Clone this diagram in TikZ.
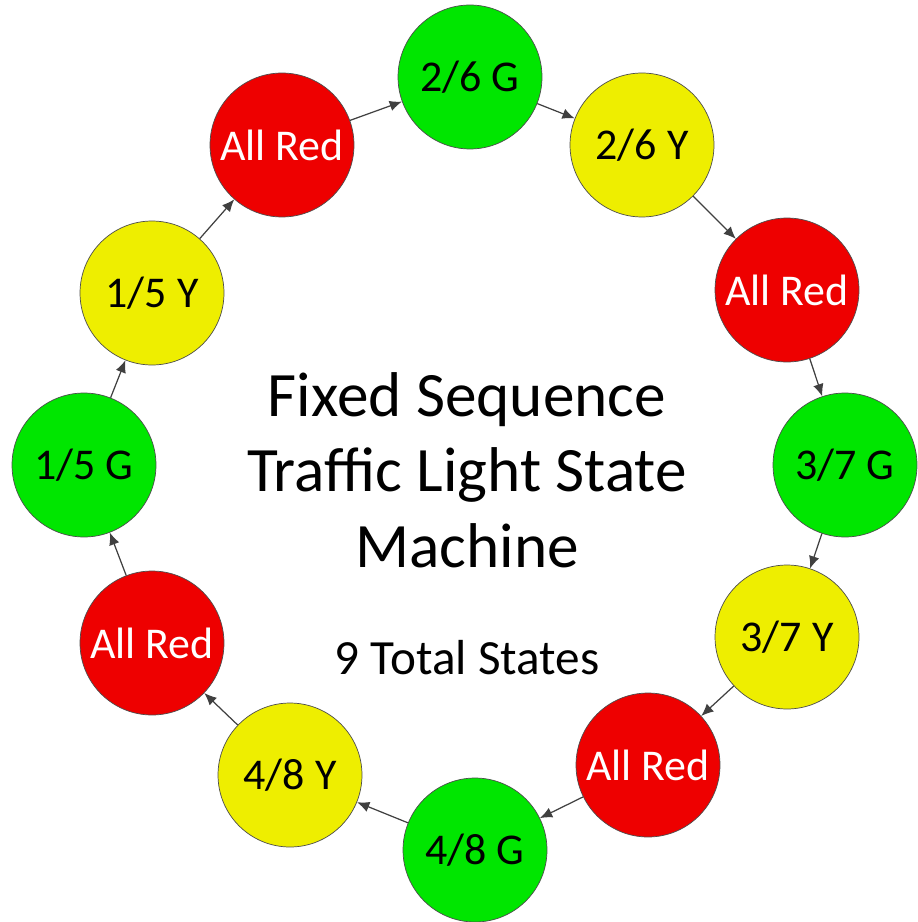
\documentclass[tikz,border=0pt]{standalone}
\usepackage{fontspec}
\setmainfont{Carlito}
\usepackage{tikz}
\usetikzlibrary{arrows,arrows.meta,automata}

\definecolor{lgreen}{HTML}{00E600}
\definecolor{lred}{HTML}{EE0000}
\definecolor{lyellow}{HTML}{EEEE00}
\definecolor{edgegray}{HTML}{404040}

\begin{document}
\begin{tikzpicture}[x=0.02cm,y=-0.02cm,->,>={Latex[length=7pt,width=6pt]},auto,
      semithick]
    \tikzstyle{every state}=[draw=black!70,thin,minimum size=2.88cm,inner sep=0pt,
      font=\fontsize{25}{30}\selectfont]
    \tikzstyle{every edge}=[draw=edgegray,line width=0.7pt]
    \tikzstyle{green}=[fill=lgreen,text=black]
    \tikzstyle{yellow}=[fill=lyellow,text=black]
    \tikzstyle{red}=[fill=lred,text=white]
    \useasboundingbox (0,0) rectangle (917,922);

    \node[state,green]  (G26) at (470,77)  {2/6 G};
    \node[state,yellow] (Y26) at (642,145) {2/6 Y};
    \node[state,red]    (R2)  at (787,290) {All Red};
    \node[state,green]  (G37) at (845,465) {3/7 G};
    \node[state,yellow] (Y37) at (787,637) {3/7 Y};
    \node[state,red]    (R3)  at (648,765) {All Red};
    \node[state,green]  (G48) at (475,850) {4/8 G};
    \node[state,yellow] (Y48) at (290,775) {4/8 Y};
    \node[state,red]    (R4)  at (152,643) {All Red};
    \node[state,green]  (G15) at (84,465)  {1/5 G};
    \node[state,yellow] (Y15) at (152,293) {1/5 Y};
    \node[state,red]    (R1)  at (282,145) {All Red};

    \node[align=center,font=\fontsize{36}{43}\selectfont] (title) at (467,470)
      {Fixed Sequence\\Traffic Light State\\Machine};
    \node[font=\fontsize{28}{33}\selectfont] (total) at (467,658) {9 Total States};

    \path (R1) edge (G26)
    (G26) edge (Y26)
    (Y26) edge (R2)
    (R2) edge (G37)
    (G37) edge (Y37)
    (Y37) edge (R3)
    (R3) edge (G48)
    (G48) edge (Y48)
    (Y48) edge (R4)
    (R4) edge (G15)
    (G15) edge (Y15)
    (Y15) edge (R1);
  \end{tikzpicture}
\end{document}
